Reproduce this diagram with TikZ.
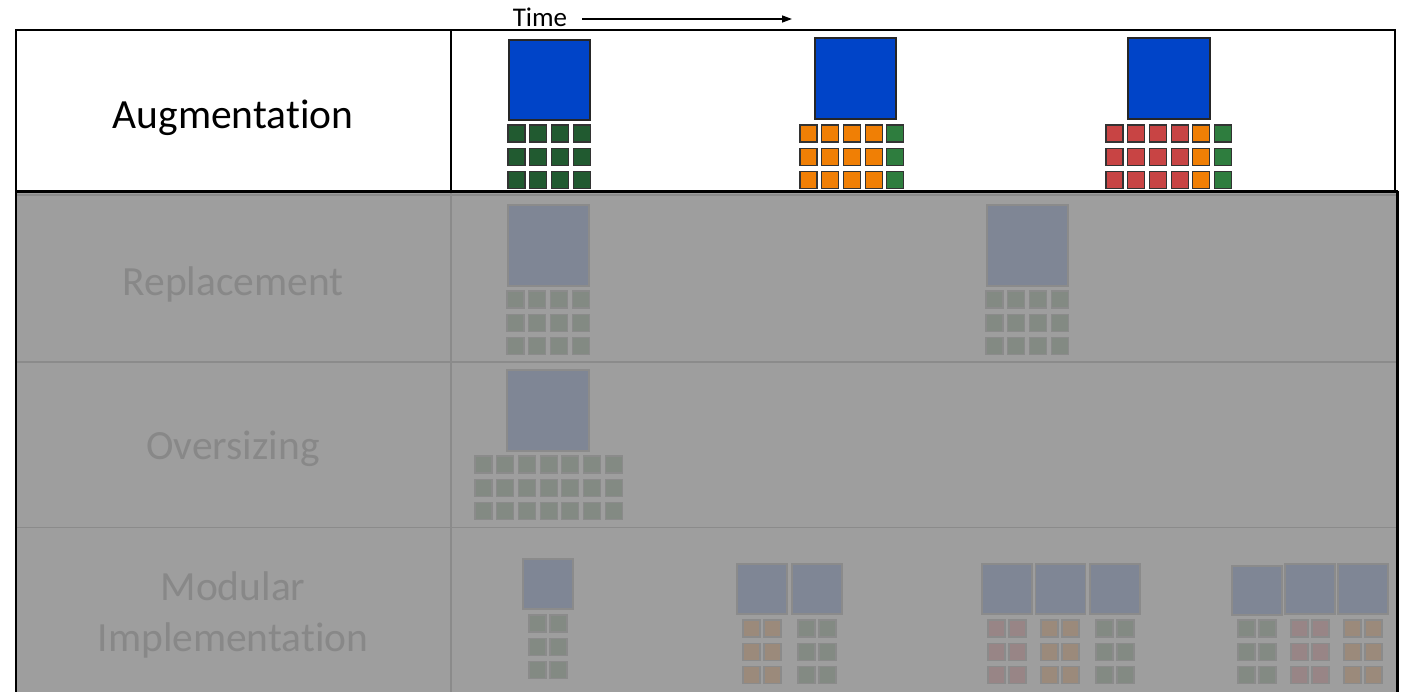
\documentclass[tikz,border=0pt]{standalone}
\usepackage{fontspec}
\setmainfont{Carlito}[Ligatures=CommonOff]
\usetikzlibrary{arrows.meta}

\definecolor{augblue}{HTML}{0044C8}
\definecolor{augdkgreen}{HTML}{215A30}
\definecolor{auggreen}{HTML}{2E7D3E}
\definecolor{augorange}{HTML}{F07F05}
\definecolor{augred}{HTML}{C84444}
\definecolor{dimfill}{HTML}{9E9E9E}
\definecolor{dimline}{HTML}{8B8B8B}
\definecolor{dimtext}{HTML}{888888}
\definecolor{dimblue}{HTML}{7F8695}
\definecolor{dimgreen}{HTML}{838A83}
\definecolor{dimorange}{HTML}{9B8A7B}
\definecolor{dimred}{HTML}{988586}

% x y pitch colours: three rows of small cells, one colour per column
\newcommand{\cellgrid}[4]{%
  \foreach \cc [count=\ci from 0] in {#4}
    \foreach \cr in {0,1,2}
      \draw[cell, fill=\cc] ({#1+\ci*#3},{#2+\cr*23.3}) rectangle +(17,17);
}

\begin{document}
\begin{tikzpicture}[
    x=1pt, y=-1pt,
    rowlbl/.style={font=\fontsize{41.5}{51}\selectfont, align=center},
    dimlbl/.style={rowlbl, text=dimtext},
    bigbox/.style={draw=black!85, line width=1.3pt, fill=augblue},
    dimbox/.style={draw=dimline, line width=1.3pt, fill=dimblue},
    cell/.style={draw=black!80, line width=1.2pt},
    timearrow/.style={-{Triangle[length=10pt,width=7pt]}, line width=1.3pt},
  ]
  \useasboundingbox (0,0) rectangle (1401,692);

  % time axis
  \node[font=\fontsize{27}{30}\selectfont, inner sep=0pt] (time) at (540,17) {Time};
  \coordinate (tend) at (792,19);
  \draw[timearrow] ([xshift=15pt,yshift=-2pt]time.east) -- (tend);

  % augmentation row
  \draw[line width=1.2pt, fill=white] (16,30) rectangle (1395,191);
  \draw[line width=1.2pt] (451,30) -- (451,191);
  \node[rowlbl] (aug) at (233,118) {Augmentation};
  \draw[bigbox] (509,40) rectangle +(81,80);
  \cellgrid{508}{125}{21.7}{augdkgreen,augdkgreen,augdkgreen,augdkgreen}
  \draw[bigbox] (815,38) rectangle +(81,81);
  \cellgrid{800}{125}{21.7}{augorange,augorange,augorange,augorange,auggreen}
  \draw[bigbox] (1128,38) rectangle +(82,81);
  \cellgrid{1106}{125}{21.7}{augred,augred,augred,augred,augorange,auggreen}

  % greyed rows
  \begin{scope}[cell/.style={draw=dimline, line width=1.2pt}]
    \fill[dimfill] (17,192) rectangle (1396,692);
    \draw[dimline, line width=1.5pt] (17,195) -- (1396,195);
    \draw[dimline, line width=1.2pt] (17,362) -- (1396,362)
      (17,527.5) -- (1396,527.5) (451,192) -- (451,692);

    \node[dimlbl] (repl) at (233,284) {Replacement};
    \draw[dimbox] (508,205) rectangle +(81,81);
    \cellgrid{507}{291}{21.7}{dimgreen,dimgreen,dimgreen,dimgreen}
    \draw[dimbox] (987,205) rectangle +(81,81);
    \cellgrid{986}{291}{21.7}{dimgreen,dimgreen,dimgreen,dimgreen}

    \node[dimlbl] (over) at (233,449) {Oversizing};
    \draw[dimbox] (507,370) rectangle +(82,81);
    \cellgrid{475}{456}{21.7}{dimgreen,dimgreen,dimgreen,dimgreen,dimgreen,dimgreen,dimgreen}

    \node[dimlbl] (modu) at (233,615) {Modular\\Implementation};
    \draw[dimbox] (523,559) rectangle +(50,50);
    \cellgrid{529}{615}{21}{dimgreen,dimgreen}
    \foreach \bx in {737,792}
      \draw[dimbox] (\bx,564) rectangle +(50,50);
    \cellgrid{743}{620}{21}{dimorange,dimorange}
    \cellgrid{798}{620}{21}{dimgreen,dimgreen}
    \foreach \bx in {982,1035.5,1090}
      \draw[dimbox] (\bx,564) rectangle +(50,50);
    \cellgrid{988}{620}{21}{dimred,dimred}
    \cellgrid{1041}{620}{21}{dimorange,dimorange}
    \cellgrid{1096}{620}{21}{dimgreen,dimgreen}
    \draw[dimbox] (1232,566) rectangle +(50,49);
    \foreach \bx in {1285,1338}
      \draw[dimbox] (\bx,564) rectangle +(50,50);
    \cellgrid{1238}{620}{21}{dimgreen,dimgreen}
    \cellgrid{1291}{620}{21}{dimred,dimred}
    \cellgrid{1344}{620}{21}{dimorange,dimorange}
  \end{scope}

  % frame
  \draw[line width=2pt] (16,30) -- (16,692);
  \draw[line width=2.5pt] (16,191.5) -- (1398,191.5);
  \draw[line width=3pt] (1397.5,191) -- (1397.5,692);
\end{tikzpicture}
\end{document}
